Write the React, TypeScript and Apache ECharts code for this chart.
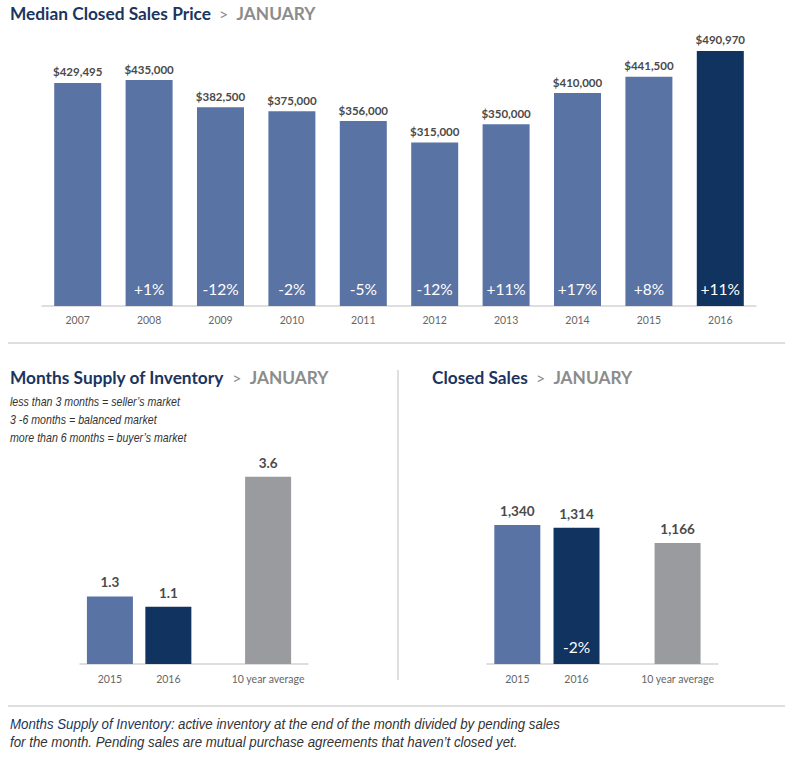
import React, { useEffect, useRef } from "react";
import * as echarts from "echarts";

const years = ["2007", "2008", "2009", "2010", "2011", "2012", "2013", "2014", "2015", "2016"];
const medianPrice = [429495, 435000, 382500, 375000, 356000, 315000, 350000, 410000, 441500, 490970];
const priceChange = ["", "+1%", "-12%", "-2%", "-5%", "-12%", "+11%", "+17%", "+8%", "+11%"];

const compareCats = ["2015", "2016", "10 year average"];
const monthsSupply = [1.3, 1.1, 3.6];
const closedSales = [1340, 1314, 1166];
const closedSalesChange = ["", "-2%", ""];

const legendNotes = [
  "less than 3 months = seller\u2019s market",
  "3 -6 months = balanced market",
  "more than 6 months = buyer\u2019s market",
];

// layout (not data)
const catPos = [1.05, 3.1, 6.6];
const BLUE = "#5a73a5";
const NAVY = "#10335f";
const GRAY = "#9a9b9f";
const compareColors = [BLUE, NAVY, GRAY];
const TITLE = "#1b3560";
const LABEL = "#4a4a4a";
const AXIS = "#666666";
const LINE = "#d4d4d4";
const FONT = "Lato, 'Open Sans', sans-serif";
const NARROW = "'Liberation Sans', sans-serif";

function titleText(x: number, y: number, main: string) {
  return {
    type: "text",
    x,
    y,
    style: {
      text: `{a|${main}}{b|  >  }{c|JANUARY}`,
      verticalAlign: "middle",
      rich: {
        a: { font: `bold 17.3px ${FONT}`, fill: TITLE },
        b: { font: `16px ${FONT}`, fill: "#8c8c8c" },
        c: { font: `bold 17.3px ${FONT}`, fill: "#8c8c8c" },
      },
    },
  };
}

export default function App() {
  const ref = useRef<HTMLDivElement>(null);
  useEffect(() => {
    if (!ref.current) return;
    const chart = echarts.init(ref.current, null, { renderer: "svg" });

    const posToName = (v: number) => {
      const i = catPos.findIndex((p) => Math.abs(p - v) < 1e-6);
      return i >= 0 ? compareCats[i] : "";
    };

    const compareXAxis = (gridIndex: number) => ({
      type: "value",
      gridIndex,
      min: 0,
      max: 8,
      axisLine: { show: true, lineStyle: { color: LINE, width: 1.5 } },
      axisTick: { show: false },
      splitLine: { show: false },
      axisLabel: {
        customValues: catPos,
        formatter: (v: number) => posToName(v),
        color: AXIS,
        fontSize: 10.5,
        fontFamily: FONT,
        margin: 9,
        showMinLabel: true,
        showMaxLabel: true,
      },
    });

    const graphics: any[] = [
      titleText(10, 13, "Median Closed Sales Price"),
      titleText(10, 377, "Months Supply of Inventory"),
      titleText(432, 377, "Closed Sales"),
      { type: "line", shape: { x1: 8, y1: 343, x2: 785, y2: 343 }, style: { stroke: LINE, lineWidth: 1.5 } },
      { type: "line", shape: { x1: 8, y1: 706, x2: 785, y2: 706 }, style: { stroke: LINE, lineWidth: 1.5 } },
      { type: "line", shape: { x1: 398, y1: 370, x2: 398, y2: 680 }, style: { stroke: LINE, lineWidth: 1.5 } },
      {
        type: "text",
        x: 10,
        y: 724,
        scaleX: 0.95,
        style: {
          text: "{a|Months Supply of Inventory:} {b|active inventory at the end of the month divided by pending sales}",
          verticalAlign: "middle",
          rich: {
            a: { font: `italic 14px ${NARROW}`, fill: TITLE },
            b: { font: `italic 14px ${NARROW}`, fill: "#333333" },
          },
        },
      },
      {
        type: "text",
        x: 10,
        y: 742,
        scaleX: 0.95,
        style: {
          text: "for the month. Pending sales are mutual purchase agreements that haven\u2019t closed yet.",
          verticalAlign: "middle",
          font: `italic 14px ${NARROW}`,
          fill: "#333333",
        },
      },
    ];
    legendNotes.forEach((t, i) => {
      graphics.push({
        type: "text",
        x: 10,
        y: 401 + i * 18,
        scaleX: 0.85,
        style: { text: t, verticalAlign: "middle", font: `italic 12.5px ${NARROW}`, fill: "#333333" },
      });
    });

    const option: any = {
      animation: false,
      grid: [
        { left: 42, width: 714, top: 306 - 259.7, height: 259.7 },
        { left: 80, width: 228, top: 664 - 208, height: 208 },
        { left: 487, width: 231, top: 664 - 155.6, height: 155.6 },
      ],
      xAxis: [
        {
          type: "category",
          gridIndex: 0,
          data: years,
          axisLine: { lineStyle: { color: LINE, width: 1.5 } },
          axisTick: { show: false },
          axisLabel: { color: AXIS, fontSize: 10.5, fontFamily: FONT, margin: 8 },
        },
        compareXAxis(1),
        compareXAxis(2),
      ],
      yAxis: [
        { type: "value", gridIndex: 0, min: 0, max: 500000, show: false },
        { type: "value", gridIndex: 1, min: 0, max: 4, show: false },
        { type: "value", gridIndex: 2, min: 0, max: 1500, show: false },
      ],
      series: [
        {
          type: "bar",
          xAxisIndex: 0,
          yAxisIndex: 0,
          barWidth: 47,
          data: medianPrice.map((v, i) => ({
            value: v,
            itemStyle: { color: i === years.length - 1 ? NAVY : BLUE },
          })),
          label: {
            show: true,
            position: "top",
            distance: 5,
            formatter: (p: any) => "$" + p.value.toLocaleString("en-US"),
            color: LABEL,
            fontWeight: "bold",
            fontSize: 11.5,
            fontFamily: FONT,
          },
        },
        {
          type: "bar",
          xAxisIndex: 0,
          yAxisIndex: 0,
          barWidth: 47,
          barGap: "-100%",
          data: medianPrice,
          itemStyle: { color: "transparent" },
          silent: true,
          label: {
            show: true,
            position: "insideBottom",
            distance: 9,
            formatter: (p: any) => priceChange[p.dataIndex],
            color: "#ffffff",
            fontSize: 15.5,
            fontFamily: FONT,
          },
        },
        {
          type: "bar",
          xAxisIndex: 1,
          yAxisIndex: 1,
          barWidth: 46,
          data: monthsSupply.map((v, i) => ({
            value: [catPos[i], v],
            itemStyle: { color: compareColors[i] },
          })),
          label: {
            show: true,
            position: "top",
            distance: 7,
            formatter: (p: any) => p.value[1].toFixed(1),
            color: LABEL,
            fontWeight: "bold",
            fontSize: 13.5,
            fontFamily: FONT,
          },
        },
        {
          type: "bar",
          xAxisIndex: 2,
          yAxisIndex: 2,
          barWidth: 46,
          data: closedSales.map((v, i) => ({
            value: [catPos[i], v],
            itemStyle: { color: compareColors[i] },
          })),
          label: {
            show: true,
            position: "top",
            distance: 7,
            formatter: (p: any) => p.value[1].toLocaleString("en-US"),
            color: LABEL,
            fontWeight: "bold",
            fontSize: 13.5,
            fontFamily: FONT,
          },
        },
        {
          type: "bar",
          xAxisIndex: 2,
          yAxisIndex: 2,
          barWidth: 46,
          barGap: "-100%",
          silent: true,
          data: closedSales.map((v, i) => [catPos[i], v]),
          itemStyle: { color: "transparent" },
          label: {
            show: true,
            position: "insideBottom",
            distance: 9,
            formatter: (p: any) => closedSalesChange[p.dataIndex],
            color: "#ffffff",
            fontSize: 15.5,
            fontFamily: FONT,
          },
        },
      ],
      graphic: graphics,
    };
    chart.setOption(option);
    return () => chart.dispose();
  }, []);
  return (
    <div
      ref={ref}
      style={{ position: "fixed", left: 0, top: 0, width: 785, height: 761, background: "#ffffff" }}
    />
  );
}
